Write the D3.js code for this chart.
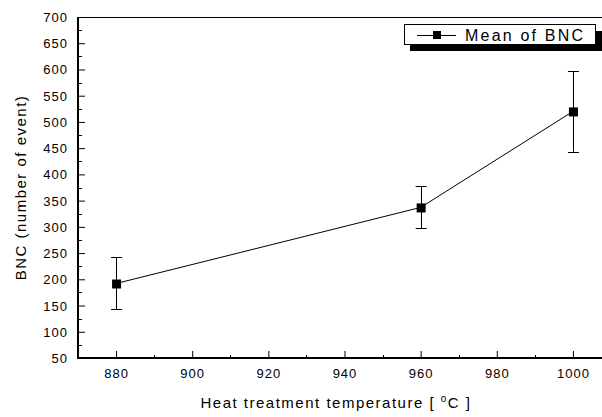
<!DOCTYPE html>
<html><head><meta charset="utf-8">
<script src="https://cdn.jsdelivr.net/npm/d3@7"></script>
<style>body{margin:0;background:#fff}svg{display:block}text{font-family:"Liberation Sans",Arial,sans-serif;fill:#000}</style>
</head><body><svg id="c" width="602" height="417"></svg>
<script>
const temps = [880, 960, 1000];
const meanBNC = [192, 337, 520];
const errLow = [143, 297, 443];
const errHigh = [242, 378, 597];
const xTicks = [880, 900, 920, 940, 960, 980, 1000];
const yTicks = [50,100,150,200,250,300,350,400,450,500,550,600,650,700];
const seriesName = "Mean of BNC";

const svg = d3.select("#c");
const L = 78, T = 17, B = 358, R = 611;
const x = d3.scaleLinear().domain([870, 1010]).range([L, R]);
const y = d3.scaleLinear().domain([50, 700]).range([B, T]);

// top frame
svg.append("line").attr("x1", L).attr("x2", 602).attr("y1", T + 0.5).attr("y2", T + 0.5).attr("stroke", "#000").attr("stroke-width", 1);

// minor ticks
const yMinor = d3.range(75, 700, 50);
svg.append("g").selectAll("line").data(yMinor).join("line")
  .attr("x1", L).attr("x2", L + 4).attr("y1", d => Math.round(y(d)) + 0.5).attr("y2", d => Math.round(y(d)) + 0.5).attr("stroke", "#000");
const xMinor = d3.range(890, 1010, 20);
svg.append("g").selectAll("line").data(xMinor).join("line")
  .attr("x1", d => Math.round(x(d)) + 0.5).attr("x2", d => Math.round(x(d)) + 0.5).attr("y1", B).attr("y2", B - 3).attr("stroke", "#000");

// y axis
const ya = svg.append("g").attr("transform", `translate(${L},0)`)
  .call(d3.axisRight(y).tickValues(yTicks).tickSize(7).tickFormat(""));
ya.select(".domain").remove();
ya.append("line").attr("x1", 0).attr("x2", 0).attr("y1", T).attr("y2", B + 1).attr("stroke", "#000").attr("stroke-width", 2);
svg.append("g").selectAll("text").data(yTicks).join("text")
  .attr("x", 68).attr("y", d => y(d) + 5).attr("text-anchor", "end")
  .style("font-size", "13px").style("letter-spacing", "1px").text(d => d);

// x axis
const xa = svg.append("g").attr("transform", `translate(0,${B})`)
  .call(d3.axisTop(x).tickValues(xTicks).tickSize(7).tickFormat(""));
xa.select(".domain").remove();
xa.append("line").attr("x1", L - 1).attr("x2", 602).attr("y1", 0).attr("y2", 0).attr("stroke", "#000").attr("stroke-width", 2);
svg.append("g").selectAll("text").data(xTicks).join("text")
  .attr("x", d => x(d) + 0.5).attr("y", B + 20).attr("text-anchor", "middle")
  .style("font-size", "13px").style("letter-spacing", "1px").text(d => d);

// titles
const xt = svg.append("text").attr("x", 336).attr("y", 408).attr("text-anchor", "middle")
  .style("font-size", "15px").style("letter-spacing", "1.5px");
xt.append("tspan").text("Heat treatment temperature [ ");
xt.append("tspan").attr("dy", -6).style("font-size", "10px").text("o");
xt.append("tspan").attr("dy", 6).text("C ]");
svg.append("text").attr("transform", `translate(26,${(T + B) / 2}) rotate(-90)`).attr("text-anchor", "middle")
  .style("font-size", "15px").style("letter-spacing", "1.5px").text("BNC (number of event)");

// data
const data = temps.map((t, i) => ({t, m: meanBNC[i], lo: errLow[i], hi: errHigh[i]}));
svg.append("path").datum(data).attr("fill", "none").attr("stroke", "#000").attr("stroke-width", 1)
  .attr("d", d3.line().x(d => x(d.t)).y(d => y(d.m)));
const eb = svg.append("g").selectAll("g").data(data).join("g");
eb.append("line").attr("x1", d => Math.round(x(d.t)) + 0.5).attr("x2", d => Math.round(x(d.t)) + 0.5)
  .attr("y1", d => y(d.hi)).attr("y2", d => y(d.lo)).attr("stroke", "#000");
eb.append("line").attr("x1", d => x(d.t) - 5).attr("x2", d => x(d.t) + 6)
  .attr("y1", d => Math.round(y(d.hi)) + 0.5).attr("y2", d => Math.round(y(d.hi)) + 0.5).attr("stroke", "#000");
eb.append("line").attr("x1", d => x(d.t) - 5).attr("x2", d => x(d.t) + 6)
  .attr("y1", d => Math.round(y(d.lo)) + 0.5).attr("y2", d => Math.round(y(d.lo)) + 0.5).attr("stroke", "#000");
eb.append("rect").attr("x", d => x(d.t) - 4).attr("y", d => y(d.m) - 4).attr("width", 9).attr("height", 9).attr("fill", "#000");

// legend
const lg = svg.append("g");
lg.append("rect").attr("x", 410).attr("y", 31).attr("width", 200).attr("height", 20).attr("fill", "#000");
lg.append("rect").attr("x", 404.5).attr("y", 24.5).attr("width", 191).attr("height", 20).attr("fill", "#fff").attr("stroke", "#000");
lg.append("line").attr("x1", 417).attr("x2", 456).attr("y1", 35.5).attr("y2", 35.5).attr("stroke", "#000");
lg.append("rect").attr("x", 433).attr("y", 31).attr("width", 8).attr("height", 8).attr("fill", "#000");
lg.append("text").attr("x", 465).attr("y", 41).style("font-size", "16px").style("letter-spacing", "2.2px").text(seriesName);
</script></body></html>
